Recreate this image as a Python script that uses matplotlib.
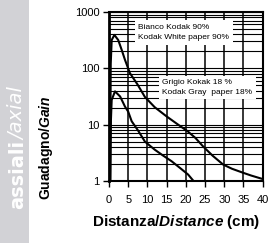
import matplotlib
matplotlib.use("Agg")
import matplotlib.pyplot as plt
from matplotlib.patches import Rectangle
from matplotlib.ticker import FixedLocator, NullFormatter

# curve values
dist_white = [0.3, 0.45, 0.7, 1.4, 2.4, 3.3, 4.15, 5.45, 7.4, 9.35, 11.9, 15.0,
              18.0, 20.5, 22.5, 24.5, 27.0, 29.7, 32.0, 34.9, 37.0, 39.7]
gain_white = [1.0, 120, 318, 392, 318, 213, 142, 82, 52, 31, 20.4, 14.0,
              10.0, 7.6, 5.8, 4.1, 2.8, 1.96, 1.65, 1.4, 1.25, 1.1]
dist_gray = [0.35, 0.5, 0.7, 1.56, 2.9, 4.15, 5.0, 5.9, 7.6, 9.35, 11.9, 14.0,
             16.3, 18.5, 20.6, 22.0]
gain_gray = [1.0, 12, 27.5, 39, 31.6, 21, 17, 11.5, 7.8, 5.0, 3.6, 2.85,
             2.24, 1.7, 1.3, 1.0]

x_ticks = [0, 5, 10, 15, 20, 25, 30, 35, 40]
y_ticks = [1, 10, 100, 1000]
y_labels = ["1", "10", "100", "1000"]

label_white = "Bianco Kodak 90%\nKodak White paper 90%"
label_gray = "Grigio Kokak 18 %\nKodak Gray  paper 18%"

plt.rcParams['font.family'] = ['Liberation Sans', 'DejaVu Sans']
plt.rcParams['mathtext.fontset'] = 'custom'
plt.rcParams['mathtext.it'] = 'Liberation Sans:italic:bold'
plt.rcParams['mathtext.rm'] = 'Liberation Sans:bold'

W, H = 270, 243
fig = plt.figure(figsize=(W / 100, H / 100), dpi=100)

# grey side band with the section title
fig.patches.append(Rectangle((0, 0), 29 / W, 1, transform=fig.transFigure,
                             facecolor='#d2d2d6', edgecolor='none', zorder=0))
fig.text(18 / W, 1 - 140 / H, "assiali", rotation=90, color='white',
         fontsize=14, fontweight='bold', ha='center', va='top',
         family=['DejaVu Sans'])
fig.text(18 / W, 1 - 140 / H, "/axial", rotation=90, color='white',
         fontsize=14, style='italic', ha='center', va='bottom',
         family=['DejaVu Sans'])

ax = fig.add_axes([109 / W, 62 / H, 153.7 / W, 169 / H])
ax.set_yscale('log')
ax.set_xlim(0, 40)
ax.set_ylim(1, 1000)

minor = [m * 10 ** e for e in range(3) for m in range(2, 10)]
ax.yaxis.set_major_locator(FixedLocator(y_ticks))
ax.yaxis.set_minor_locator(FixedLocator(minor))
ax.yaxis.set_minor_formatter(NullFormatter())
ax.set_yticklabels(y_labels)
ax.set_xticks(x_ticks)
ax.tick_params(axis='y', which='minor', length=0)
ax.tick_params(which='major', length=4, width=1, labelsize=8)
ax.tick_params(axis='x', pad=6)
ax.tick_params(axis='y', pad=3)

ax.grid(True, which='both', axis='y', color='black', lw=0.8)
ax.grid(True, which='major', axis='x', color='black', lw=1.1)
for s in ax.spines.values():
    s.set_linewidth(1.5)
ax.spines['left'].set_linewidth(2)

ax.plot(dist_white, gain_white, color='black', lw=1.5, zorder=3)
ax.plot(dist_gray, gain_gray, color='black', lw=1.5, zorder=3)

ax.text(7.6, 433, label_white, fontsize=6, va='center', ha='left',
        linespacing=1.65, zorder=4,
        bbox=dict(facecolor='white', edgecolor='none', pad=2.5))
ax.text(13.9, 46, label_gray, fontsize=6, va='center', ha='left',
        linespacing=1.5, zorder=4,
        bbox=dict(facecolor='white', edgecolor='none', pad=2.5))

fig.text(46 / W, 1 - 148 / H, "Guadagno/$\\mathit{Gain}$", rotation=90,
         fontsize=10, fontweight='bold', ha='center', va='center')
fig.text(176 / W, 1 - 222 / H, "Distanza/$\\mathit{Distance}$ (cm)",
         fontsize=11, fontweight='bold', ha='center', va='center')

fig.savefig("out.png", dpi=100)
